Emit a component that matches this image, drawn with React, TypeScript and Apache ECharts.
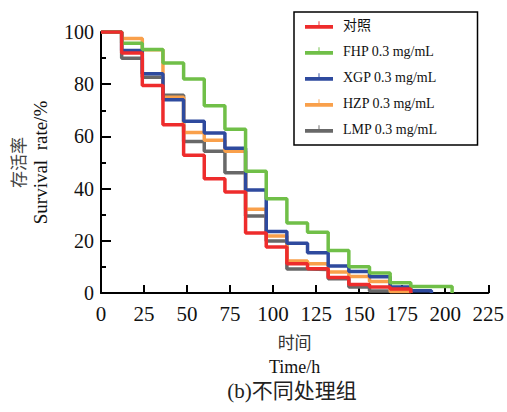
import React, { useEffect, useRef } from "react";
import * as echarts from "echarts";

const times = [0, 12, 24, 36, 48, 60, 72, 84, 96, 108, 120, 132, 144, 156, 168, 180, 192, 204];
const seriesNames = ["对照", "FHP 0.3 mg/mL", "XGP 0.3 mg/mL", "HZP 0.3 mg/mL", "LMP 0.3 mg/mL"];
const controlSurvival = [100, 92, 79.5, 64.5, 52.8, 43.8, 38.7, 23, 17.6, 11.2, 9.3, 5.9, 3.3, 2.3, 1.5, 0];
const fhpSurvival = [100, 95.7, 93.3, 88.1, 82, 71.7, 62.7, 46.6, 36.1, 26.8, 23.3, 16.3, 10.1, 7.7, 3.9, 2.5, 2.5, 0];
const xgpSurvival = [100, 92.9, 84, 74, 65.8, 61.3, 55.5, 39.5, 23.6, 19.1, 15.4, 10.3, 8.2, 6.2, 2.3, 0.9, 0];
const hzpSurvival = [100, 97.5, 93.2, 75, 61.5, 58.5, 54.3, 32.1, 21.8, 12.3, 11.2, 8, 6.3, 4.4, 0.6, 0];
const lmpSurvival = [100, 89.9, 82.7, 75.8, 58, 54.3, 46.1, 29.5, 19.9, 9.2, 9, 5.5, 2.3, 0.8, 0];
const colors = ["#EE2C2C", "#70BF48", "#2E4A9E", "#F9A04B", "#686868"];
const xTickMax = 225;
const yTickMax = 100;

const SERIF = "'Times New Roman', 'Liberation Serif', 'Noto Sans CJK SC', serif";
const CJK = "'Noto Sans CJK SC', sans-serif";

export default function App() {
  const ref = useRef<HTMLDivElement>(null);
  useEffect(() => {
    if (!ref.current) return;
    const chart = echarts.init(ref.current, undefined, { renderer: "svg" });
    const allValues = [controlSurvival, fhpSurvival, xgpSurvival, hzpSurvival, lmpSurvival];
    const drawOrder = [4, 3, 2, 1, 0];
    const series = drawOrder.map((idx) => ({
      name: seriesNames[idx],
      type: "line",
      step: "end",
      showSymbol: false,
      symbol: "none",
      z: 10 - idx,
      data: allValues[idx].map((v, i) => [times[i], v]),
      lineStyle: { color: colors[idx], width: 3.5 },
      itemStyle: { color: colors[idx] },
    }));
    chart.setOption({
      animation: false,
      backgroundColor: "#ffffff",
      grid: { left: 101, top: 32, width: 393, height: 261 },
      legend: {
        data: seriesNames,
        orient: "vertical",
        left: 294,
        top: 12,
        width: 153,
        padding: [5, 40, 8, 11],
        itemGap: 10,
        itemWidth: 28,
        itemHeight: 8,
        icon: "path://M0,4H30V8H0Z M14.5,0H15.5V4H14.5Z",
        borderColor: "#000",
        borderWidth: 1.5,
        textStyle: { fontFamily: SERIF, fontSize: 14, color: "#111", lineHeight: 16, padding: [0, 0, 0, 5] },
      },
      xAxis: {
        type: "value",
        min: 0,
        max: xTickMax,
        interval: 25,
        name: "{cn|时间}\n{en|Time/h}",
        nameLocation: "middle",
        nameGap: 36,
        nameTextStyle: {
          rich: {
            cn: { fontFamily: CJK, fontSize: 17, color: "#333", lineHeight: 25 },
            en: { fontFamily: SERIF, fontSize: 18, color: "#111", lineHeight: 25 },
          },
        },
        axisLine: { show: true, onZero: false, lineStyle: { color: "#000", width: 2 } },
        axisTick: { show: true, inside: true, length: 8, lineStyle: { color: "#000", width: 2 } },
        axisLabel: { fontFamily: SERIF, fontSize: 21, color: "#111", margin: 10 },
        splitLine: { show: false },
      },
      yAxis: {
        type: "value",
        min: 0,
        max: yTickMax,
        interval: 20,
        name: "{cn|存活率}\n{en|Survival  rate/%}",
        nameLocation: "middle",
        nameRotate: 90,
        nameGap: 49,
        nameTextStyle: {
          rich: {
            cn: { fontFamily: CJK, fontSize: 17, color: "#444", lineHeight: 23 },
            en: { fontFamily: SERIF, fontSize: 19, color: "#111", lineHeight: 23 },
          },
        },
        axisLine: { show: true, lineStyle: { color: "#000", width: 2 } },
        axisTick: { show: true, inside: true, length: 10, lineStyle: { color: "#000", width: 2 } },
        minorTick: { show: true, splitNumber: 2, length: 5, lineStyle: { color: "#000", width: 2 } },
        axisLabel: { fontFamily: SERIF, fontSize: 20, color: "#111", margin: 7 },
        splitLine: { show: false },
      },
      graphic: [
        {
          type: "text",
          x: 292,
          y: 391,
          style: {
            text: "(b)不同处理组",
            font: "21px " + SERIF,
            fill: "#222",
            align: "center",
            verticalAlign: "middle",
          },
        },
      ],
      series,
    });
    return () => chart.dispose();
  }, []);
  return (
    <div
      ref={ref}
      style={{ position: "absolute", left: 0, top: 0, width: 507, height: 412 }}
    />
  );
}
